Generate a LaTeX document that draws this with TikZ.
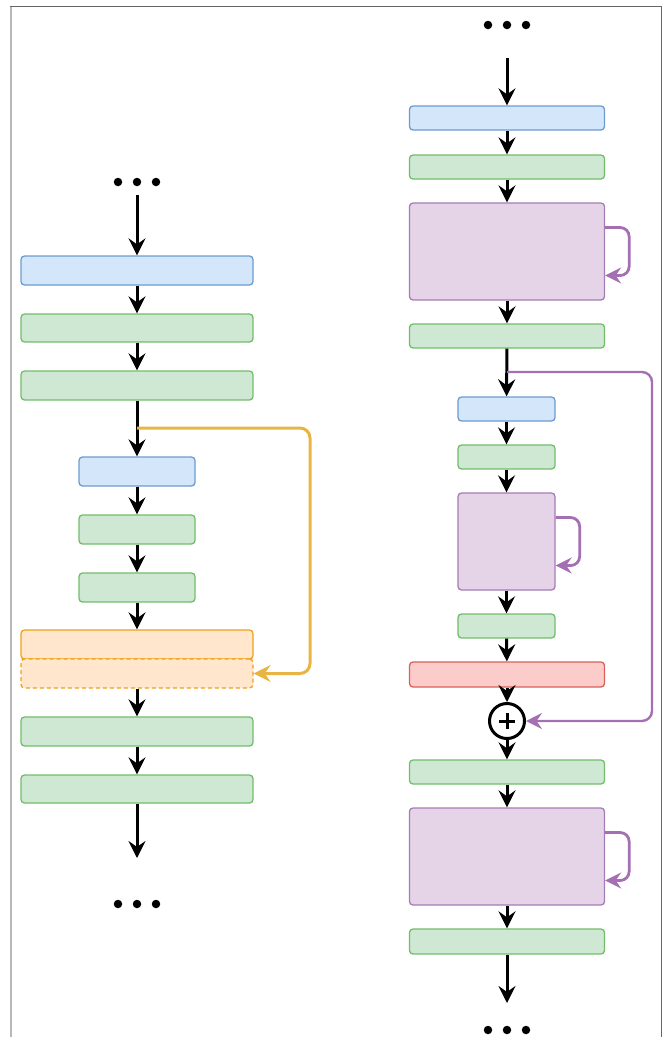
\documentclass[tikz,border=0pt]{standalone}
\usetikzlibrary{arrows.meta}
\definecolor{bfill}{HTML}{D4E6FA}
\definecolor{bline}{HTML}{6C9BCF}
\definecolor{gfill}{HTML}{CFE8D3}
\definecolor{gline}{HTML}{72BD6A}
\definecolor{ofill}{HTML}{FFE6CC}
\definecolor{oline}{HTML}{EDA21A}
\definecolor{pfill}{HTML}{E5D4E8}
\definecolor{pline}{HTML}{A67CB6}
\definecolor{rfill}{HTML}{FCCCCB}
\definecolor{rline}{HTML}{D9615C}
\definecolor{yel}{HTML}{E8B545}
\definecolor{ploop}{HTML}{A570B3}
\tikzset{
  box/.style={draw, rounded corners=3.5pt, line width=1.3pt, inner sep=0pt},
  bbox/.style={box, fill=bfill, draw=bline},
  gbox/.style={box, fill=gfill, draw=gline},
  obox/.style={box, fill=ofill, draw=oline},
  pbox/.style={box, fill=pfill, draw=pline},
  rbox/.style={box, fill=rfill, draw=rline},
  wideL/.style={minimum width=232pt, minimum height=29pt},
  narL/.style={minimum width=116pt, minimum height=29pt},
  wideR/.style={minimum width=195pt, minimum height=24pt},
  narR/.style={minimum width=97pt, minimum height=24pt},
  flow/.style={draw=black, line width=3pt, -{Stealth[length=17pt,width=17pt,inset=6pt]}},
  yflow/.style={draw=yel, line width=3pt, rounded corners=10pt, -{Stealth[length=17pt,width=17pt,inset=6pt]}},
  pflow/.style={draw=ploop, line width=2.8pt, rounded corners=9pt, -{Stealth[length=16pt,width=16pt,inset=5.5pt]}},
  dot/.style={circle, fill=black, inner sep=0pt, minimum size=8.5pt},
}
\begin{document}
\begin{tikzpicture}[x=1pt,y=-1pt]
\useasboundingbox (0,0) rectangle (664,1037);
% frame
\draw[line width=1.8pt, draw=black!60] (10,6.5) -- (661.5,6.5);
\draw[line width=1.8pt, draw=black!60] (661.5,6.5) -- (661.5,1037);
\draw[line width=1.8pt, draw=black!28] (11,6.5) -- (11,1037);

% ---------------- left column ----------------
\node[dot] (lt1) at (118,182) {};
\node[dot] (lt2) at (137,182) {};
\node[dot] (lt3) at (156,182) {};
\coordinate (lin) at (137,195);
\node[bbox, wideL] (lb1) at (137,270.5) {};
\node[gbox, wideL, minimum height=28pt] (lg1) at (137,328) {};
\node[gbox, wideL] (lg2) at (137,385.5) {};
\node[bbox, narL] (lb2) at (137,471.5) {};
\node[gbox, narL] (lg3) at (137,529.5) {};
\node[gbox, narL] (lg4) at (137,587.5) {};
\node[obox, wideL] (lo1) at (137,644.5) {};
\node[obox, wideL, dashed, dash pattern=on 4pt off 3pt] (lo2) at (137,673.5) {};
\node[gbox, wideL] (lg5) at (137,731.5) {};
\node[gbox, wideL, minimum height=28pt] (lg6) at (137,789) {};
\coordinate (lout) at (137,858);
\node[dot] (lb1d) at (118,904) {};
\node[dot] (lb2d) at (137,904) {};
\node[dot] (lb3d) at (156,904) {};

\draw[flow] (lin) -- (lb1);
\draw[flow] (lb1) -- (lg1);
\draw[flow] (lg1) -- (lg2);
\draw[flow] (lg2) -- (lb2);
\draw[flow] (lb2) -- (lg3);
\draw[flow] (lg3) -- (lg4);
\draw[flow] (lg4) -- (lo1);
\draw[flow] (lo2) -- (lg5);
\draw[flow] (lg5) -- (lg6);
\draw[flow] (lg6) -- (lout);
\coordinate (ysplit) at (137,428);
\draw[yflow] (ysplit) -- (310,428) -- (310,673.5) -- (lo2.east);

% ---------------- right column ----------------
\node[dot] (rt1) at (488,25) {};
\node[dot] (rt2) at (507,25) {};
\node[dot] (rt3) at (526,25) {};
\coordinate (rin) at (507,58);
\node[bbox, wideR] (rb1) at (507,118) {};
\node[gbox, wideR] (rg1) at (507,167) {};
\node[pbox, wideR, minimum height=97pt] (rp1) at (507,251.5) {};
\node[gbox, wideR] (rg2) at (507,336) {};
\node[bbox, narR] (rb2) at (506.5,409) {};
\node[gbox, narR] (rg3) at (506.5,457) {};
\node[pbox, narR, minimum height=97pt] (rp2) at (506.5,541.5) {};
\node[gbox, narR] (rg4) at (506.5,626) {};
\node[rbox, wideR, minimum height=25pt] (rr) at (507,674.5) {};
\node[circle, draw=black, line width=3pt, fill=white, minimum size=35pt, inner sep=0pt] (plus) at (507,721) {};
\draw[line width=3pt] ([xshift=-8pt]plus.center) -- ([xshift=8pt]plus.center);
\draw[line width=3pt] ([yshift=-8pt]plus.center) -- ([yshift=8pt]plus.center);
\node[gbox, wideR] (rg5) at (507,772) {};
\node[pbox, wideR, minimum height=97pt] (rp3) at (507,856.5) {};
\node[gbox, wideR, minimum height=25pt] (rg6) at (507,941.5) {};
\coordinate (rout) at (507,1003);
\node[dot] (rb1d) at (488,1030) {};
\node[dot] (rb2d) at (507,1030) {};
\node[dot] (rb3d) at (526,1030) {};

\draw[flow] (rin) -- (rb1);
\draw[flow] (rb1) -- (rg1);
\draw[flow] (rg1) -- (rp1);
\draw[flow] (rp1) -- (rg2);
\draw[flow] (rg2) -- (rb2);
\draw[flow] (rb2) -- (rg3);
\draw[flow] (rg3) -- (rp2);
\draw[flow] (rp2) -- (rg4);
\draw[flow] (rg4) -- (rr);
\draw[flow] (rr) -- (plus);
\draw[flow] (plus) -- (rg5);
\draw[flow] (rg5) -- (rp3);
\draw[flow] (rp3) -- (rg6);
\draw[flow] (rg6) -- (rout);

% self loops
\draw[pflow] ([yshift=24pt]rp1.east) -- ++(24,0) -- ++(0,48) -- ([yshift=-24pt]rp1.east);
\draw[pflow] ([yshift=24pt]rp2.east) -- ++(24,0) -- ++(0,48) -- ([yshift=-24pt]rp2.east);
\draw[pflow] ([yshift=24pt]rp3.east) -- ++(24,0) -- ++(0,48) -- ([yshift=-24pt]rp3.east);
% skip connection
\coordinate (psplit) at (507,372);
\draw[pflow, line width=2.4pt, rounded corners=10pt] (psplit) -- (652,372) -- (652,721) -- (plus.east);
\end{tikzpicture}
\end{document}
